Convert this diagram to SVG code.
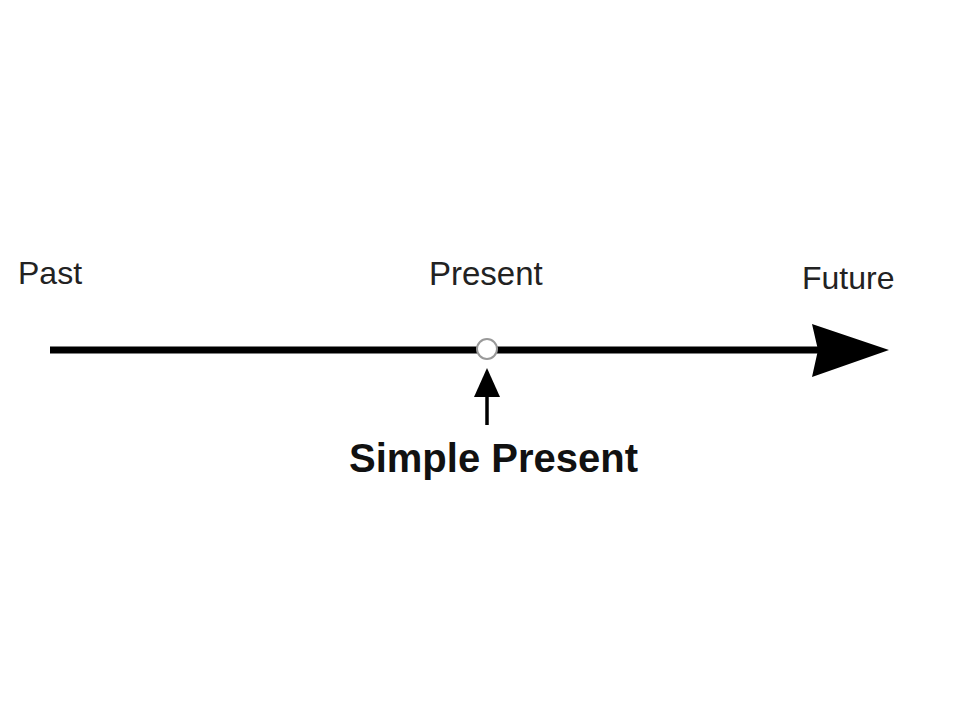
<svg xmlns="http://www.w3.org/2000/svg" width="960" height="720" viewBox="0 0 960 720">
<style>
.lbl{font-family:"Liberation Sans",Arial,sans-serif;font-size:32px;fill:#222}
.bold{font-family:"Liberation Sans",Arial,sans-serif;font-size:40px;font-weight:bold;fill:#111}
</style>
<rect width="960" height="720" fill="#fff"/>
<g id="connectors">
<line x1="50" y1="350" x2="820" y2="350" stroke="#000" stroke-width="7"/>
<polygon points="812,324 889,350 812,377 818,350" fill="#000"/>
<line x1="487" y1="425" x2="487" y2="394" stroke="#000" stroke-width="3.5"/>
<polygon points="487,368 500,397 474,397" fill="#000"/>
</g>
<g id="present-point">
<circle cx="487" cy="349" r="10" fill="#fff" stroke="#999" stroke-width="2"/>
</g>
<g id="past"><text class="lbl" x="18" y="284">Past</text></g>
<g id="present"><text class="lbl" x="429" y="285" style="font-size:33px">Present</text></g>
<g id="future"><text class="lbl" x="802" y="289">Future</text></g>
<g id="simple-present"><text class="bold" x="349" y="472">Simple Present</text></g>
</svg>
